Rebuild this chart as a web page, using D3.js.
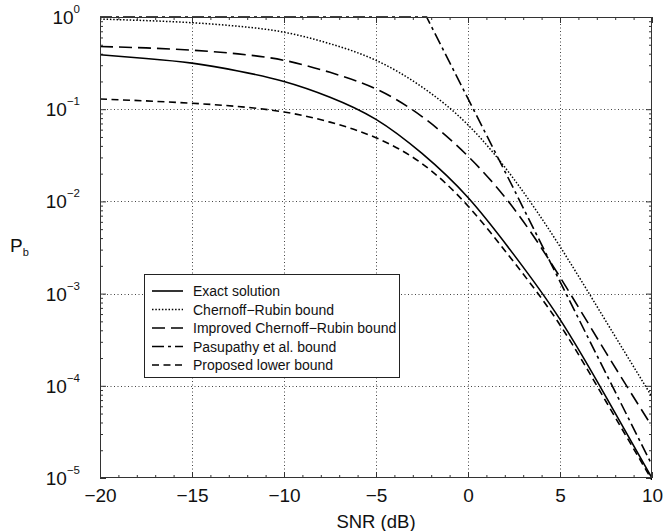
<!DOCTYPE html>
<html><head><meta charset="utf-8">
<script src="https://cdn.jsdelivr.net/npm/d3@7"></script>
<style>
body{margin:0;background:#fff}
svg{display:block}
text{font-family:"Liberation Sans",Arial,Helvetica,sans-serif;fill:#111}
</style>
</head><body><svg id="c" width="664" height="531"></svg>
<script>
// ---- data ----
const snrDb = [-20, -17.5, -15, -12.5, -10, -7.5, -5, -2.5, 0, 2.5, 5, 7.5, 10];
const exactPb    = [0.389, 0.355, 0.316, 0.260, 0.200, 0.135, 0.0776, 0.0331, 0.0110, 0.00263, 5.25e-4, 7.59e-5, 1.0e-5];
const chernoffPb = [0.950, 0.914, 0.867, 0.794, 0.684, 0.513, 0.339, 0.174, 0.0676, 0.0174, 3.24e-3, 5.0e-4, 7.6e-5];
const improvedPb = [0.479, 0.462, 0.437, 0.398, 0.339, 0.251, 0.166, 0.0832, 0.0309, 8.32e-3, 1.51e-3, 2.29e-4, 3.63e-5];
const proposedPb = [0.129, 0.123, 0.116, 0.107, 0.0933, 0.0724, 0.0490, 0.0257, 8.91e-3, 2.19e-3, 4.57e-4, 6.76e-5, 9.5e-6];
const pasupathySnrDb = [-20, -2.25, 0, 2.5, 5, 7.5, 10];
const pasupathyPb    = [1, 1, 0.13, 0.0135, 1.35e-3, 1.36e-4, 1.38e-5];

const xTickValues = [-20, -15, -10, -5, 0, 5, 10];
const xTickLabels = ["\u221220", "\u221215", "\u221210", "\u22125", "0", "5", "10"];
const yTickValues = [1, 1e-1, 1e-2, 1e-3, 1e-4, 1e-5];
const yTickExponents = ["0", "\u22121", "\u22122", "\u22123", "\u22124", "\u22125"];
const legendLabels = ["Exact solution", "Chernoff\u2212Rubin bound", "Improved Chernoff\u2212Rubin bound", "Pasupathy et al. bound", "Proposed lower bound"];
const xLabel = "SNR (dB)";

// ---- layout ----
const L = 100, R = 652, T = 17, B = 478;
const svg = d3.select("#c");
const x = d3.scaleLinear().domain([-20, 10]).range([L, R]);
const y = d3.scaleLog().domain([1e-5, 1]).range([B, T]);

// grid
const gridX = xTickValues.filter(v => v > -20 && v < 10);
const gridY = yTickValues.filter(v => v < 1 && v > 1e-5);
const grid = svg.append("g").attr("stroke", "#444").attr("stroke-width", 1).attr("stroke-dasharray", "1,2.5");
grid.selectAll(".gx").data(gridX).join("line")
  .attr("x1", d => Math.round(x(d)) + 0.5).attr("x2", d => Math.round(x(d)) + 0.5)
  .attr("y1", T).attr("y2", B);
grid.selectAll(".gy").data(gridY).join("line")
  .attr("y1", d => Math.round(y(d)) + 0.5).attr("y2", d => Math.round(y(d)) + 0.5)
  .attr("x1", L).attr("x2", R);

// minor ticks values
const yMinor = [];
for (let e = -5; e < 0; e++) for (let m = 2; m <= 9; m++) yMinor.push(m * Math.pow(10, e));
const xMinor = d3.range(-20, 11, 1);

function styleAxis(g) {
  g.select(".domain").remove();
  g.selectAll(".tick line").attr("stroke", "#333");
}
// bottom
svg.append("g").attr("transform", `translate(0,${B})`)
  .call(d3.axisBottom(x).tickValues(xMinor).tickSize(-3).tickFormat("")).call(styleAxis);
const xAx = svg.append("g").attr("transform", `translate(0,${B})`)
  .call(d3.axisBottom(x).tickValues(xTickValues).tickSize(-6).tickPadding(10.5)
    .tickFormat((d, i) => xTickLabels[i])).call(styleAxis);
xAx.selectAll("text").attr("font-size", 19).attr("fill", "#111");
// top
svg.append("g").attr("transform", `translate(0,${T})`)
  .call(d3.axisTop(x).tickValues(xMinor).tickSize(-3).tickFormat("")).call(styleAxis);
svg.append("g").attr("transform", `translate(0,${T})`)
  .call(d3.axisTop(x).tickValues(xTickValues).tickSize(-6).tickFormat("")).call(styleAxis);
// left
svg.append("g").attr("transform", `translate(${L},0)`)
  .call(d3.axisLeft(y).tickValues(yMinor).tickSize(-3).tickFormat("")).call(styleAxis);
svg.append("g").attr("transform", `translate(${L},0)`)
  .call(d3.axisLeft(y).tickValues(yTickValues).tickSize(-6).tickFormat("")).call(styleAxis);
// right
svg.append("g").attr("transform", `translate(${R},0)`)
  .call(d3.axisRight(y).tickValues(yMinor).tickSize(-3).tickFormat("")).call(styleAxis);
svg.append("g").attr("transform", `translate(${R},0)`)
  .call(d3.axisRight(y).tickValues(yTickValues).tickSize(-6).tickFormat("")).call(styleAxis);

// y tick labels 10^k
const yl = svg.append("g").selectAll("text").data(yTickValues).join("text")
  .attr("x", 80).attr("y", d => y(d) + 7).attr("text-anchor", "end").attr("font-size", 19);
yl.append("tspan").text("10");
yl.append("tspan").attr("font-size", 11.5).attr("dy", -11).text((d, i) => yTickExponents[i]);

// axis labels
svg.append("text").attr("x", (L + R) / 2).attr("y", 528).attr("text-anchor", "middle")
  .attr("font-size", 18.5).text(xLabel);
const pl = svg.append("text").attr("x", 10).attr("y", 252).attr("font-size", 19);
pl.append("tspan").text("P");
pl.append("tspan").attr("font-size", 11).attr("dy", 4).text("b");

// curves
svg.append("clipPath").attr("id", "clip").append("rect")
  .attr("x", L).attr("y", T - 2).attr("width", R - L).attr("height", B - T + 4);
const series = [
  {xs: snrDb, ys: exactPb, dash: null, w: 1.6, curve: d3.curveNatural},
  {xs: snrDb, ys: chernoffPb, dash: "1.5,1.8", w: 1.5, curve: d3.curveNatural},
  {xs: snrDb, ys: improvedPb, dash: "13,6", w: 1.6, curve: d3.curveNatural},
  {xs: pasupathySnrDb, ys: pasupathyPb, dash: "12,4,3,4", w: 1.6, curve: d3.curveLinear},
  {xs: snrDb, ys: proposedPb, dash: "7,4.5", w: 1.6, curve: d3.curveNatural}
];
const cg = svg.append("g").attr("clip-path", "url(#clip)");
series.forEach(s => {
  const line = d3.line().x(d => x(d[0])).y(d => y(d[1])).curve(s.curve);
  cg.append("path").datum(s.xs.map((v, i) => [v, s.ys[i]]))
    .attr("d", line).attr("fill", "none").attr("stroke", "#000")
    .attr("stroke-width", s.w).attr("stroke-dasharray", s.dash);
});

// frame
svg.append("rect").attr("x", L + 0.5).attr("y", T + 0.5).attr("width", R - L - 1).attr("height", B - T - 1)
  .attr("fill", "none").attr("stroke", "#333").attr("stroke-width", 1);

// legend
const lg = svg.append("g");
lg.append("rect").attr("x", 144.5).attr("y", 274.5).attr("width", 255).attr("height", 103)
  .attr("fill", "#fff").attr("stroke", "#222").attr("stroke-width", 1);
legendLabels.forEach((lab, i) => {
  const yy = 291 + i * 18.5;
  lg.append("line").attr("x1", 152).attr("x2", 183).attr("y1", yy).attr("y2", yy)
    .attr("stroke", "#000").attr("stroke-width", series[i].w).attr("stroke-dasharray", series[i].dash);
  lg.append("text").attr("x", 193).attr("y", yy).attr("dy", "0.36em").attr("font-size", 14).text(lab);
});
</script>
</body></html>
